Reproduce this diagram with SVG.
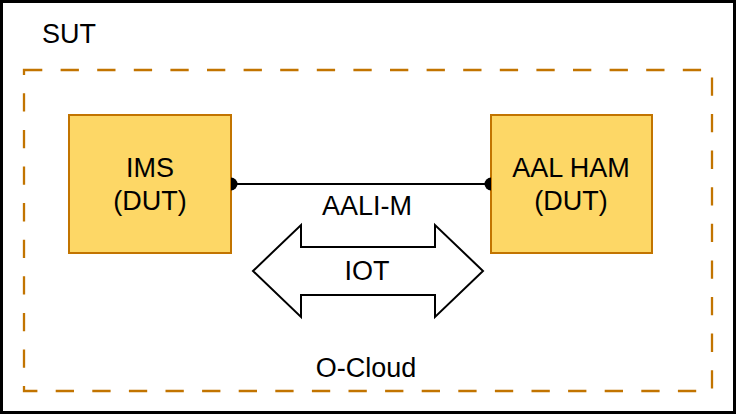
<svg xmlns="http://www.w3.org/2000/svg" width="736" height="415" viewBox="0 0 736 415">
<defs>
<style>
text{font-family:"Liberation Sans",Arial,Helvetica,sans-serif;font-size:27px;fill:#000;text-anchor:middle}
.box{fill:#FDD766;stroke:#C27400;stroke-width:2}
</style>
</defs>
<rect width="736" height="415" fill="#fff"/>
<g id="sut">
<rect x="1.5" y="1.5" width="733" height="411" fill="none" stroke="#000" stroke-width="3"/>
<text x="42" y="43" style="text-anchor:start">SUT</text>
</g>
<g id="ocloud">
<rect x="24" y="70" width="688" height="321" fill="none" stroke="#C27400" stroke-width="2.3" stroke-dasharray="18.3 18.3"/>
<text x="366" y="377">O-Cloud</text>
</g>
<g id="ims">
<rect class="box" x="69" y="115" width="162" height="138"/>
<text x="150" y="177">IMS</text>
<text x="150" y="210">(DUT)</text>
</g>
<g id="aalham">
<rect class="box" x="491" y="115" width="161" height="138"/>
<text x="571" y="177">AAL HAM</text>
<text x="571" y="210">(DUT)</text>
</g>
<g id="connectors">
<line x1="231" y1="184" x2="491" y2="184" stroke="#000" stroke-width="2"/>
<path d="M231 177.5 A6.5 6.5 0 0 1 231 190.5 Z" fill="#000"/>
<path d="M491 177.5 A6.5 6.5 0 0 0 491 190.5 Z" fill="#000"/>
<text x="367" y="215">AALI-M</text>
<g id="iot">
<path d="M253 271 L301 225 L301 247 L435 247 L435 225 L483 271 L435 317 L435 295 L301 295 L301 317 Z" fill="#fff" stroke="#000" stroke-width="2"/>
<text x="367" y="280">IOT</text>
</g>
</g>
</svg>
